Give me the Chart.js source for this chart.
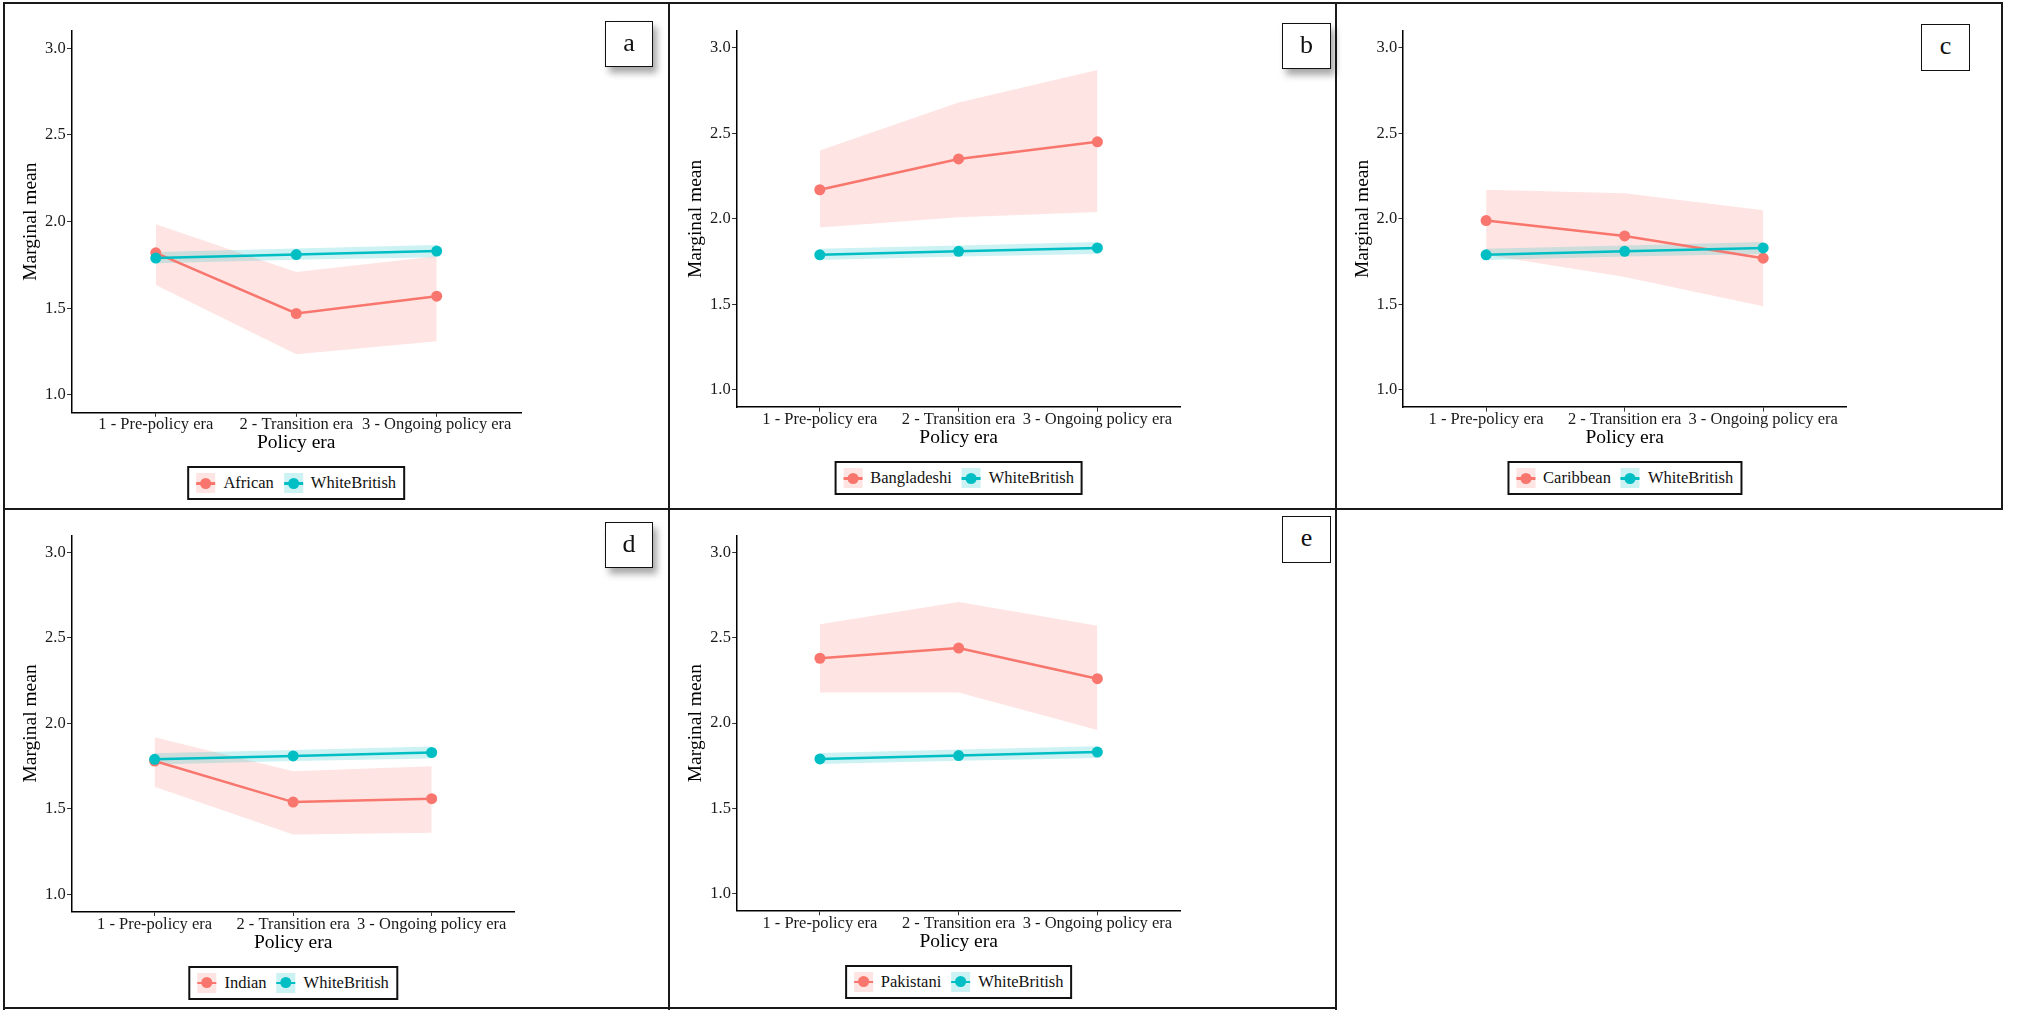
<!DOCTYPE html>
<html><head><meta charset="utf-8">
<script src="https://cdn.jsdelivr.net/npm/chart.js@4.4.1/dist/chart.umd.min.js"></script>
<style>
html,body{margin:0;padding:0;background:#fff;width:2030px;height:1013px;overflow:hidden;position:relative;font-family:'Liberation Serif','Times New Roman',serif;}
.line{position:absolute;background:#1a1a1a;}
canvas{position:absolute;}
.lab{position:absolute;border:1.5px solid #111;background:#fff;box-sizing:border-box;display:flex;align-items:center;justify-content:center;font-size:26px;color:#111;line-height:1;padding-bottom:3px;}
.leg{position:absolute;border:2px solid #111;box-sizing:border-box;height:34px;display:flex;align-items:center;padding:0 7px;transform:translateX(-50%);background:#fff;font-size:16.5px;white-space:nowrap;color:#111;}
.key{position:relative;display:inline-block;width:19px;height:20px;margin-right:8px;}
.key .ln{position:absolute;left:0;right:0;top:9px;height:2.5px;}
.key .dt{position:absolute;left:4px;top:4.5px;width:11px;height:11px;border-radius:50%;}
</style></head><body>
<script>
// ---- data ----
const categories = ["1 - Pre-policy era", "2 - Transition era", "3 - Ongoing policy era"];
const yTickValues = [1.0, 1.5, 2.0, 2.5, 3.0];
const xAxisTitle = "Policy era";
const yAxisTitle = "Marginal mean";
const panelLetters = ["a", "b", "c", "d", "e"];
const groupNames = ["African", "Bangladeshi", "Caribbean", "Indian", "Pakistani"];
const referenceGroup = "WhiteBritish";

const whiteBritishMean  = [1.79, 1.81, 1.83];
const whiteBritishLower = [1.76, 1.78, 1.795];
const whiteBritishUpper = [1.825, 1.845, 1.865];

const africanMean  = [1.82, 1.47, 1.57];
const africanLower = [1.635, 1.235, 1.31];
const africanUpper = [1.985, 1.71, 1.80];

const bangladeshiMean  = [2.17, 2.35, 2.45];
const bangladeshiLower = [1.95, 2.01, 2.04];
const bangladeshiUpper = [2.40, 2.68, 2.87];

const caribbeanMean  = [1.99, 1.90, 1.77];
const caribbeanLower = [1.79, 1.66, 1.49];
const caribbeanUpper = [2.17, 2.15, 2.05];

const indianMean  = [1.78, 1.54, 1.56];
const indianLower = [1.63, 1.35, 1.36];
const indianUpper = [1.92, 1.72, 1.75];

const pakistaniMean  = [2.38, 2.44, 2.26];
const pakistaniLower = [2.18, 2.18, 1.96];
const pakistaniUpper = [2.58, 2.71, 2.57];

const groupMeans  = [africanMean, bangladeshiMean, caribbeanMean, indianMean, pakistaniMean];
const groupLowers = [africanLower, bangladeshiLower, caribbeanLower, indianLower, pakistaniLower];
const groupUppers = [africanUpper, bangladeshiUpper, caribbeanUpper, indianUpper, pakistaniUpper];

// ---- styling / layout ----
const FONT = "'Liberation Serif', 'Times New Roman', serif";
const RED = '#F8766D', TEAL = '#00BFC4';
const RED_RIB = 'rgba(248,118,109,0.2)', TEAL_RIB = 'rgba(0,191,196,0.2)';

const layout = [
  {cx:5,   cy:4,   cw:663, ch:504, L:71.5,  R:521,    T:31,    B:412.3, box:[605,21,48,46],   shadow:true},
  {cx:671, cy:4,   cw:664, ch:504, L:736.5, R:1180.7, T:30.6,  B:407.1, box:[1282,23,49,46],  shadow:true},
  {cx:1338,cy:4,   cw:663, ch:504, L:1403,  R:1846.3, T:30.6,  B:407.1, box:[1921,24,49,47],  shadow:false},
  {cx:5,   cy:511, cw:663, ch:496, L:71.5,  R:514.8,  T:535.4, B:911.5, box:[605,522,48,46],  shadow:true},
  {cx:671, cy:511, cw:664, ch:496, L:736.7, R:1180.6, T:535.4, B:910.8, box:[1282,516,49,47], shadow:false}
];

// panel border lines
const lines = [
  [3,1.5,2,1008],[668,1.5,2,1008],[1335,1.5,2,1008],[2001,1.5,2,508],
  [3,1.5,2000,2],[3,508,2000,2],[3,1007,1334,2]
];
lines.forEach(([x,y,w,h])=>{
  const d=document.createElement('div'); d.className='line';
  d.style.cssText+=`left:${x}px;top:${y}px;width:${w}px;height:${h}px;`;
  document.body.appendChild(d);
});

const toPts = arr => arr.map((v,k)=>({x:k, y:v}));

function keyHtml(color, rib){
  return `<span class="key" style="background:${rib}"><span class="ln" style="background:${color}"></span><span class="dt" style="background:${color}"></span></span>`;
}

function makePanel(i){
  const P = layout[i];
  const cv = document.createElement('canvas');
  cv.width = P.cw; cv.height = P.ch;
  cv.style.left = P.cx + 'px'; cv.style.top = P.cy + 'px';
  document.body.appendChild(cv);
  const Wy = P.L - P.cx, Hx = 45;
  const titleLH = 19.5 * 1.2;
  const gridOpts = {drawOnChartArea:false, drawTicks:true, tickLength:4.5, color:'#333', lineWidth:1};
  const borderOpts = {display:true, color:'#000', width:1.5};
  const hidden = 'rgba(0,0,0,0)';
  new Chart(cv, {
    type:'line',
    data:{datasets:[
      {label:referenceGroup, data:toPts(whiteBritishMean), borderColor:TEAL, backgroundColor:TEAL,
       pointBackgroundColor:TEAL, borderWidth:2.5, pointRadius:5.5, pointBorderWidth:0, fill:false},
      {label:groupNames[i], data:toPts(groupMeans[i]), borderColor:RED, backgroundColor:RED,
       pointBackgroundColor:RED, borderWidth:2.5, pointRadius:5.5, pointBorderWidth:0, fill:false},
      {label:'wb_upper', data:toPts(whiteBritishUpper), borderColor:hidden, pointRadius:0, fill:false},
      {label:'wb_lower', data:toPts(whiteBritishLower), borderColor:hidden, pointRadius:0, fill:'-1', backgroundColor:TEAL_RIB},
      {label:'g_upper', data:toPts(groupUppers[i]), borderColor:hidden, pointRadius:0, fill:false},
      {label:'g_lower', data:toPts(groupLowers[i]), borderColor:hidden, pointRadius:0, fill:'-1', backgroundColor:RED_RIB}
    ]},
    options:{
      responsive:false, animation:false, devicePixelRatio:1,
      layout:{padding:{left:0, top:P.T-P.cy, right:P.cx+P.cw-P.R, bottom:P.cy+P.ch-P.B-Hx}},
      plugins:{legend:{display:false}, tooltip:{enabled:false}, filler:{drawTime:'beforeDatasetsDraw', propagate:false}},
      elements:{line:{tension:0}},
      scales:{
        x:{type:'linear', min:-0.6, max:2.6,
           afterFit:s=>{s.height=Hx;},
           afterBuildTicks:s=>{s.ticks=categories.map((c,k)=>({value:k}));},
           ticks:{autoSkip:false, maxRotation:0, minRotation:0, padding:0, color:'#1a1a1a',
                  font:{family:FONT, size:16.5, lineHeight:1}, callback:v=>categories[v]},
           grid:gridOpts, border:borderOpts,
           title:{display:true, text:xAxisTitle, color:'#000', font:{family:FONT, size:19.5, lineHeight:1.2},
                  padding:{top:0, bottom:Hx-31-titleLH/2}}},
        y:{type:'linear', min:0.9, max:3.1,
           afterFit:s=>{s.width=Wy;},
           afterBuildTicks:s=>{s.ticks=yTickValues.map(v=>({value:v}));},
           ticks:{padding:1.3, color:'#1a1a1a', font:{family:FONT, size:16.5}, callback:v=>Number(v).toFixed(1)},
           grid:gridOpts, border:borderOpts,
           title:{display:true, text:yAxisTitle, color:'#000', font:{family:FONT, size:19.5, lineHeight:1.2},
                  padding:{top:(P.L-40.5)-P.cx-titleLH/2, bottom:0}}}
      }
    }
  });

  // panel letter box
  const b = document.createElement('div'); b.className='lab';
  const [bx,by,bw,bh] = P.box;
  b.style.cssText += `left:${bx}px;top:${by}px;width:${bw}px;height:${bh}px;` + (P.shadow ? 'box-shadow:4px 6px 7px rgba(0,0,0,0.35);' : '');
  b.textContent = panelLetters[i];
  document.body.appendChild(b);

  // legend
  const lg = document.createElement('div'); lg.className='leg';
  lg.style.left = ((P.L+P.R)/2) + 'px'; lg.style.top = (P.B+54) + 'px';
  lg.innerHTML = keyHtml(RED, RED_RIB) + `<span>${groupNames[i]}</span><span style="display:inline-block;width:10px"></span>` +
                 keyHtml(TEAL, TEAL_RIB) + `<span>${referenceGroup}</span>`;
  document.body.appendChild(lg);
}

for (let i = 0; i < groupNames.length; i++) makePanel(i);
</script>
</body></html>
